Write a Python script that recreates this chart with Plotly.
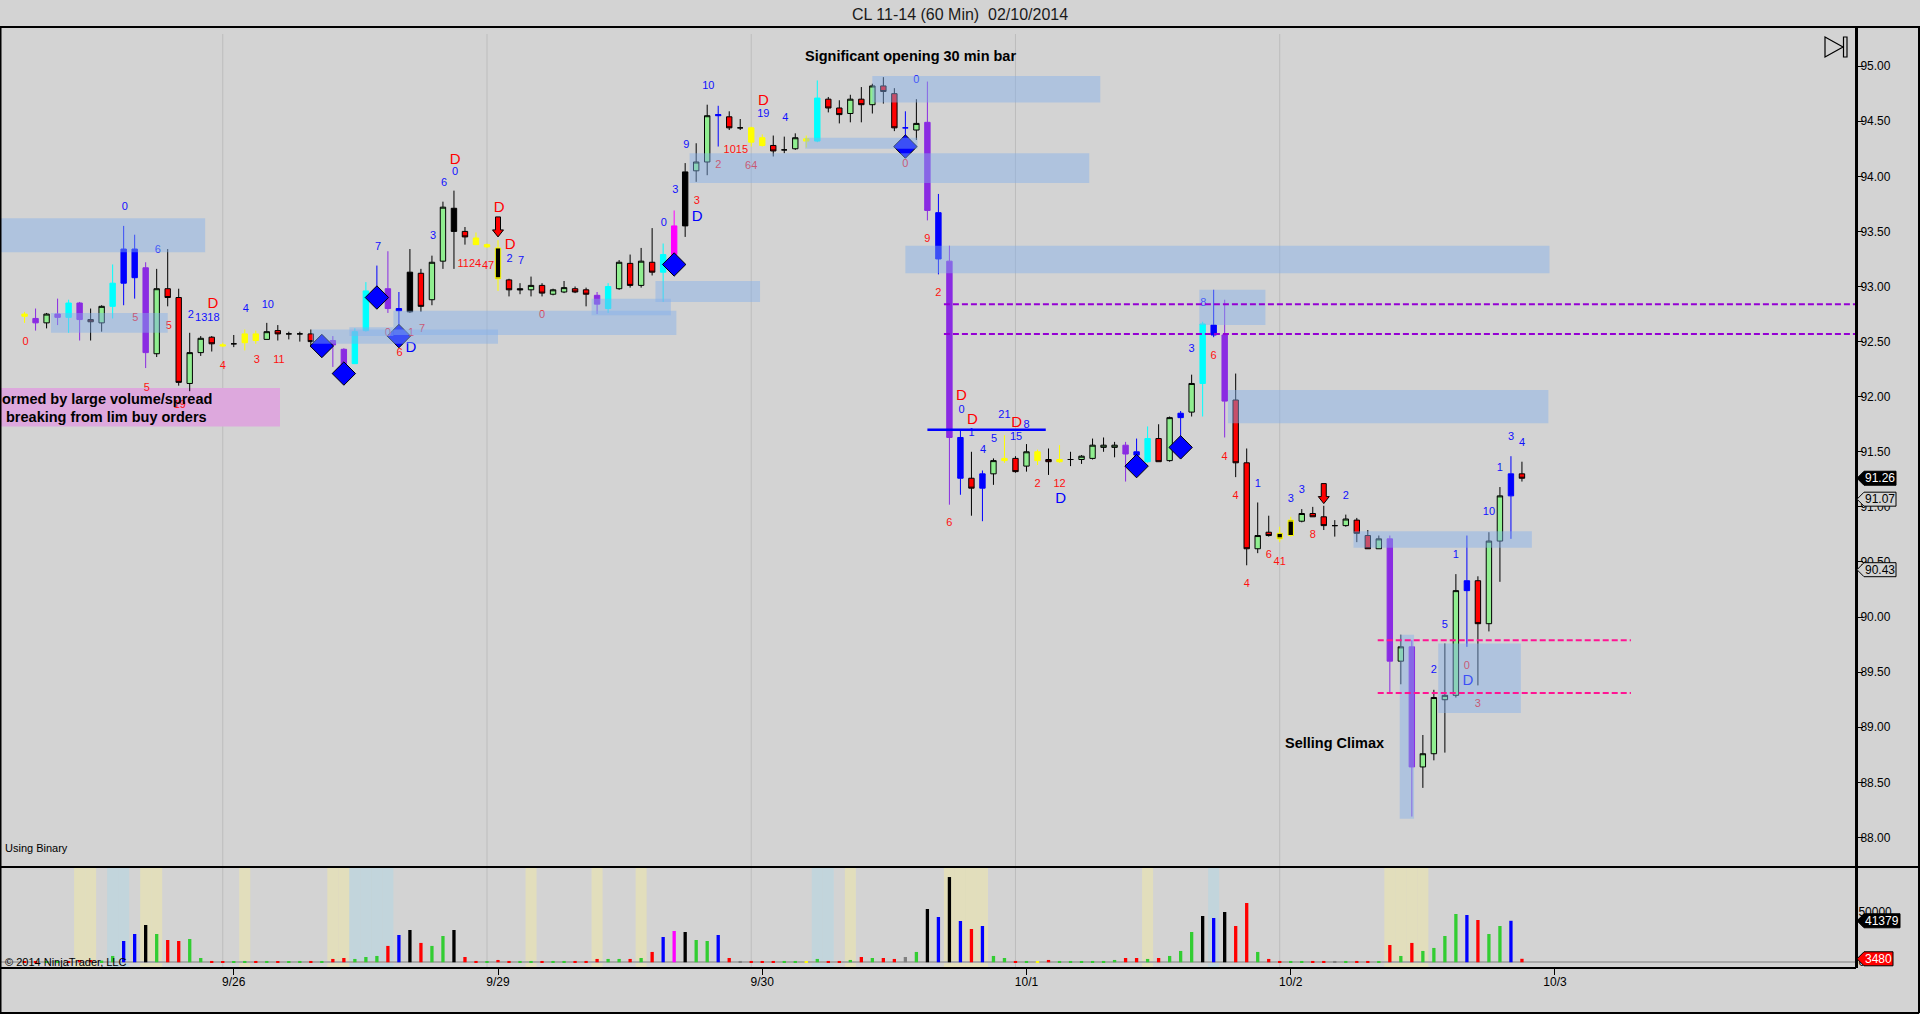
import plotly.graph_objects as go

# hourly bars, index 0 = first bar on the chart (9/25 evening)
opens = [92.75, 92.71, 92.67, 92.75, 92.72, 92.85, 92.70, 92.67, 92.82, 93.03,
         93.34, 93.17, 92.39, 92.98, 92.90, 92.12, 92.40, 92.54, 92.46, 92.48,
         92.49, 92.51, 92.52, 92.60, 92.57, 92.57, 92.57, 92.50, 92.51, 92.43,
         92.30, 92.60, 92.92, 92.98, 92.80, 92.77, 93.12, 92.88, 93.23, 93.71,
         93.50, 93.44, 93.38, 93.35, 93.06, 92.98, 92.97, 93.01, 92.93, 92.95,
         92.98, 92.97, 92.92, 92.80, 92.98, 93.21, 93.01, 93.22, 93.13, 93.29,
         93.55, 94.05, 94.13, 94.55, 94.54, 94.44, 94.44, 94.35, 94.28, 94.24,
         94.25, 94.32, 94.32, 94.70, 94.62, 94.57, 94.70, 94.65, 94.82, 94.75,
         94.44, 94.42, 94.49, 93.67, 93.23, 91.63, 91.26, 91.17, 91.30, 91.42,
         91.44, 91.37, 91.50, 91.43, 91.41, 91.43, 91.43, 91.44, 91.54, 91.54,
         91.56, 91.47, 91.41, 91.62, 91.42, 91.81, 91.86, 92.12, 92.65, 92.56,
         91.97, 91.40, 90.62, 90.77, 90.76, 90.74, 90.87, 90.94, 90.91, 90.83,
         90.83, 90.88, 90.74, 90.62, 90.71, 89.60, 89.73, 88.64, 88.76, 89.25,
         89.29, 90.24, 90.33, 89.94, 90.69, 91.10, 91.30]
highs = [92.77, 92.80, 92.76, 92.89, 92.88, 92.86, 92.80, 92.83, 93.20, 93.55,
         93.47, 93.22, 93.16, 93.34, 92.98, 92.58, 92.55, 92.55, 92.49, 92.56,
         92.61, 92.60, 92.67, 92.65, 92.59, 92.59, 92.61, 92.55, 92.55, 92.44,
         92.62, 93.04, 93.19, 93.32, 92.95, 93.34, 93.16, 93.28, 93.77, 93.87,
         93.54, 93.49, 93.39, 93.42, 93.07, 93.03, 93.09, 93.03, 92.98, 93.05,
         93.00, 92.99, 92.95, 93.03, 93.24, 93.29, 93.35, 93.53, 93.39, 93.69,
         94.12, 94.30, 94.65, 94.64, 94.59, 94.52, 94.45, 94.38, 94.37, 94.36,
         94.39, 94.37, 94.87, 94.72, 94.69, 94.74, 94.81, 94.84, 94.90, 94.80,
         94.59, 94.70, 94.86, 93.84, 93.37, 91.70, 91.50, 91.33, 91.44, 91.65,
         91.46, 91.57, 91.52, 91.53, 91.56, 91.50, 91.47, 91.62, 91.63, 91.59,
         91.59, 91.62, 91.73, 91.75, 91.82, 91.87, 92.20, 92.68, 92.97, 92.88,
         92.21, 91.53, 91.04, 90.92, 90.82, 90.91, 90.98, 91.00, 91.01, 90.88,
         90.93, 90.90, 90.79, 90.74, 90.74, 89.84, 89.79, 88.93, 89.34, 89.76,
         90.39, 90.74, 90.37, 90.77, 91.18, 91.46, 91.41]
lows = [92.67, 92.60, 92.62, 92.65, 92.58, 92.51, 92.51, 92.59, 92.71, 92.83,
        92.89, 92.26, 92.36, 92.82, 92.10, 92.05, 92.37, 92.41, 92.45, 92.45,
        92.42, 92.48, 92.52, 92.51, 92.52, 92.50, 92.45, 92.44, 92.27, 92.25,
        92.30, 92.59, 92.90, 92.76, 92.57, 92.76, 92.77, 92.83, 93.16, 93.16,
        93.38, 93.38, 93.35, 92.96, 92.91, 92.93, 92.91, 92.91, 92.92, 92.94,
        92.94, 92.82, 92.75, 92.76, 92.97, 92.99, 92.99, 93.10, 92.86, 93.27,
        93.45, 93.95, 94.01, 94.27, 94.42, 94.42, 94.27, 94.27, 94.18, 94.21,
        94.24, 94.26, 94.31, 94.58, 94.48, 94.49, 94.49, 94.57, 94.66, 94.41,
        94.27, 94.33, 93.60, 93.11, 91.02, 91.11, 90.92, 90.87, 91.20, 91.40,
        91.31, 91.32, 91.38, 91.29, 91.40, 91.37, 91.39, 91.43, 91.50, 91.45,
        91.23, 91.30, 91.40, 91.41, 91.41, 91.55, 91.82, 91.82, 92.54, 91.63,
        91.27, 90.47, 90.58, 90.73, 90.68, 90.73, 90.86, 90.91, 90.79, 90.73,
        90.82, 90.68, 90.62, 90.62, 89.31, 89.39, 88.19, 88.45, 88.70, 88.77,
        89.27, 89.73, 89.38, 89.87, 90.32, 90.71, 91.23]
closes = [92.73, 92.67, 92.75, 92.72, 92.85, 92.70, 92.68, 92.82, 93.03, 93.34,
          93.08, 92.40, 92.98, 92.90, 92.13, 92.40, 92.53, 92.48, 92.47, 92.48,
          92.57, 92.57, 92.59, 92.57, 92.57, 92.57, 92.50, 92.47, 92.47, 92.29,
          92.59, 92.96, 92.96, 92.80, 92.78, 93.13, 92.82, 93.22, 93.72, 93.50,
          93.45, 93.38, 93.36, 93.07, 92.97, 92.97, 93.01, 92.94, 92.97, 92.99,
          92.95, 92.93, 92.84, 93.00, 93.22, 93.01, 93.23, 93.13, 93.29, 93.55,
          94.04, 94.13, 94.55, 94.56, 94.44, 94.44, 94.31, 94.28, 94.23, 94.24,
          94.35, 94.34, 94.71, 94.62, 94.56, 94.70, 94.65, 94.82, 94.77, 94.44,
          94.44, 94.48, 93.69, 93.25, 91.63, 91.26, 91.17, 91.30, 91.42, 91.44,
          91.32, 91.50, 91.42, 91.41, 91.43, 91.43, 91.46, 91.56, 91.56, 91.56,
          91.48, 91.50, 91.62, 91.41, 91.81, 91.85, 92.12, 92.66, 92.56, 91.96,
          91.40, 90.62, 90.74, 90.74, 90.71, 90.88, 90.94, 90.91, 90.83, 90.83,
          90.89, 90.76, 90.62, 90.71, 89.60, 89.73, 88.64, 88.76, 89.27, 89.29,
          90.24, 90.33, 89.94, 90.69, 91.10, 91.30, 91.26]
# indicator paint of each bar
bar_codes = ("Y P G P C P R G C B B P G R R G G R Y K "
             "Y Y G R K K R K P P C C B P B K R G G K "
             "R Y Y YB R K G R G G R R P C G R G R C M "
             "K G G B R K Y Y R K G Y C R R G R G R R "
             "B G P B P B R B G Y R G Y R Y K G G G G "
             "P B C R G B G C B P R R G R YB YB G R R K "
             "G R R G P G P G G G G B R G G B R").split()

volumes = [1300, 1300, 1300, 1300, 1300, 2300, 2300, 1700, 6300, 21250,
           28200, 37180, 28200, 22250, 21250, 23240, 4300, 1330, 600, 700,
           1330, 1330, 1330, 700, 700, 1330, 1330, 1330, 3320, 4300,
           3320, 5300, 6300, 16300, 27220, 32200, 19300, 16300, 26230, 32200,
           5300, 1330, 600, 2320, 1330, 1330, 1330, 1330, 1330, 1330,
           1330, 1330, 3320, 3320, 3320, 3320, 4300, 10300, 25230, 31200,
           30200, 22250, 21250, 27220, 4300, 1330, 1330, 1330, 1330, 1330,
           1330, 1000, 3320, 1330, 1330, 2320, 5300, 4300, 4300, 3320,
           5300, 10300, 53120, 45150, 84990, 41170, 33200, 36190, 6300, 4300,
           1330, 1330, 1000, 2320, 1330, 1330, 1330, 1330, 1330, 2320,
           4300, 4300, 3320, 4300, 6300, 11300, 30200, 46150, 44150, 50140,
           36190, 59100, 10300, 3320, 1330, 1330, 1330, 1330, 1330, 1330,
           1330, 1330, 1330, 1330, 17260, 6300, 19300, 11300, 14300, 26230,
           48140, 47140, 42160, 28200, 36190, 41379, 3480]
vol_codes = ("R R G G R R R G G B B K G R R G G R R G "
             "G R G R G G R G R R G G G R B K R G G K "
             "R R G R R G G R G G R R R G G R G R B M "
             "K G G B R N R R R G G Y G R R G R G R R "
             "N G K B K B R B G G R G Y R G G G G G G "
             "R R G R G G G K B K R R G R R G G R R N "
             "G R R G R G R G G G G B R G G B R").split()

day_lines = [18, 42, 66, 90, 114]
date_ticks = [19, 43, 67, 91, 115, 139]
date_labels = ["9/26", "9/29", "9/30", "10/1", "10/2", "10/3"]

# supply / demand zones drawn on the chart
zone_start = [-2.2, 2.4, 26.1, 29.5, 33.5, 51.5, 57.3, 60.4, 70.9, 77.0, 80.0, 106.7, 109.3, 120.7, 124.9, 128.4]
zone_end = [16.4, 13.0, 43.0, 33.5, 59.2, 58.7, 66.8, 96.7, 81.1, 97.7, 138.5, 112.7, 138.4, 136.9, 126.2, 135.9]
zone_low = [93.31, 92.58, 92.48, 92.55, 92.56, 92.74, 92.86, 93.94, 94.25, 94.67, 93.12, 92.65, 91.76, 90.63, 88.17, 89.13]
zone_high = [93.62, 92.76, 92.61, 92.63, 92.78, 92.89, 93.05, 94.21, 94.35, 94.91, 93.37, 92.97, 92.06, 90.78, 89.84, 89.76]

shade_yellow = [5, 6, 11, 12, 20, 28, 29, 46, 52, 56, 75, 84, 85, 86, 87, 102, 124, 125, 126, 127]
shade_blue = [8, 9, 30, 31, 32, 33, 72, 73, 108]

diamond_x = [27, 29, 32, 34, 59, 80, 101, 105]
diamond_y = [92.46, 92.21, 92.90, 92.55, 93.20, 94.27, 91.37, 91.54]

red_num_x = [0.1, 10.05, 11.1, 13.1, 14.1, 18.0, 21.1, 23.1, 33.0, 35.1, 36.1, 34.05, 40.4, 42.1,
             47.0, 61.05, 63.0, 64.6, 66.0, 80.0, 82.0, 83.0, 84.0, 92.0, 94.0, 108.0, 109.0,
             110.0, 111.0, 113.0, 114.0, 117.0, 131.0, 132.0]
red_num_y = [92.49, 92.71, 92.08, 92.64, 91.92, 92.28, 92.33, 92.33, 92.58, 92.58, 92.61, 92.39,
             93.20, 93.18, 92.74, 93.77, 94.10, 94.24, 94.09, 94.11, 93.43, 92.94, 90.85, 91.21,
             91.21, 92.37, 91.45, 91.10, 90.30, 90.56, 90.50, 90.74, 89.55, 89.21]
red_num_text = ["0", "5", "5", "5", "19", "4", "3", "11", "0", "1", "7", "6", "1124", "47",
                "0", "3", "2", "1015", "64", "0", "9", "2", "6", "2", "12", "6", "4",
                "4", "4", "6", "41", "8", "0", "3"]

blue_num_x = [9.1, 12.1, 15.1, 16.6, 20.1, 22.1, 32.1, 37.1, 38.1, 39.1, 44.05, 45.1, 58.05,
              59.1, 60.1, 62.1, 67.1, 69.1, 81.0, 85.1, 86.0, 87.05, 88.05, 89.0, 90.05, 91.0,
              106.0, 107.05, 112.0, 115.0, 116.0, 120.0, 128.0, 129.0, 130.0, 133.0, 134.0,
              135.0, 136.0]
blue_num_y = [93.72, 93.33, 92.74, 92.71, 92.79, 92.83, 93.36, 93.46, 93.94, 94.04, 93.25, 93.23,
              93.57, 93.87, 94.28, 94.82, 94.56, 94.53, 94.87, 91.88, 91.67, 91.51, 91.61, 91.83,
              91.63, 91.74, 92.43, 92.85, 91.21, 91.07, 91.15, 91.10, 89.52, 89.93, 90.56,
              90.95, 91.35, 91.63, 91.58]
blue_num_text = ["0", "6", "2", "1318", "4", "10", "7", "3", "6", "0", "2", "7", "0",
                 "3", "9", "10", "19", "4", "0", "0", "1", "4", "5", "21", "15", "8",
                 "3", "8", "1", "3", "3", "2", "2", "5", "1", "10", "1", "3", "4"]

red_d_x = [17.1, 39.1, 43.1, 44.1, 67.1, 85.1, 86.1, 90.1]
red_d_y = [92.84, 94.15, 93.71, 93.37, 94.68, 92.00, 91.79, 91.76]
blue_d_x = [35.1, 61.1, 94.1, 131.1]
blue_d_y = [92.44, 93.63, 91.07, 89.42]

arrow_x = [43, 118]
arrow_tip = [93.45, 91.03]

purple_levels = [92.84, 92.57]
pink_levels = [89.79, 89.31]
blue_level = 91.70

last_price = 91.26
ref_prices = [91.07, 90.43]
last_volume = 41379
bar_volume = 3480

# ---------------------------------------------------------------
W, H = 1920, 1014
ML, MR, MT, MB = 1, 64, 27, 46
PW, PH = W - ML - MR, H - MT - MB
FONT = "Liberation Sans"
BG = "#D3D3D3"
X_RANGE = [-2.14, 166.34]


def fx(px):
    return (px - ML) / PW


def fy(py):
    return (H - MB - py) / PH


split = fy(867)

candle_style = {
    "G": ("#90EE90", "#000000"),
    "R": ("#FF0000", "#000000"),
    "P": ("#8A2BE2", "#8A2BE2"),
    "B": ("#0000FF", "#0000FF"),
    "C": ("#00FFFF", "#00FFFF"),
    "K": ("#000000", "#000000"),
    "M": ("#FF00FF", "#FF00FF"),
    "Y": ("#FFFF00", "#FFFF00"),
    "YB": ("#000000", "#FFFF00"),
}
vol_style = {"G": "#32CD32", "R": "#FF0000", "B": "#0000FF", "K": "#000000",
             "M": "#FF00FF", "Y": "#FFFF00", "N": "#808080"}

fig = go.Figure()

for code, (fill, edge) in candle_style.items():
    ids = [i for i, c in enumerate(bar_codes) if c == code]
    side = dict(fillcolor=fill, line=dict(color=edge, width=1))
    fig.add_trace(go.Candlestick(
        x=ids,
        open=[opens[i] for i in ids], high=[highs[i] for i in ids],
        low=[lows[i] for i in ids], close=[closes[i] for i in ids],
        increasing=side, decreasing=side, whiskerwidth=0,
        showlegend=False, hoverinfo="skip"))

fig.add_trace(go.Bar(
    x=list(range(len(volumes))), y=volumes, width=0.3,
    marker=dict(color=[vol_style[c] for c in vol_codes], line=dict(width=0)),
    xaxis="x2", yaxis="y2", showlegend=False, hoverinfo="skip"))

fig.add_trace(go.Scatter(
    x=diamond_x, y=diamond_y, mode="markers",
    marker=dict(symbol="diamond", size=18, color="#0000FF", line=dict(color="black", width=1)),
    showlegend=False, hoverinfo="skip"))


def text_trace(xs, ys, txt, color, size):
    return go.Scatter(x=xs, y=ys, text=txt, mode="text",
                      textfont=dict(family=FONT, size=size, color=color),
                      showlegend=False, hoverinfo="skip")


fig.add_trace(text_trace(red_num_x, red_num_y, red_num_text, "#FF1010", 11))
fig.add_trace(text_trace(blue_num_x, blue_num_y, blue_num_text, "#1010FF", 11))
fig.add_trace(text_trace(red_d_x, red_d_y, ["D"] * len(red_d_x), "#FF0000", 15))
fig.add_trace(text_trace(blue_d_x, blue_d_y, ["D"] * len(blue_d_x), "#0000FF", 15))

shapes = []
# volume panel shading
for ids, col in ((shade_yellow, "rgba(238,232,170,0.55)"), (shade_blue, "rgba(173,216,230,0.45)")):
    for i in ids:
        shapes.append(dict(type="rect", xref="x2", yref="paper", x0=i - 0.5, x1=i + 0.5,
                           y0=0, y1=split, fillcolor=col, line=dict(width=0), layer="below"))
# day separators
for d in day_lines:
    shapes.append(dict(type="line", xref="x", yref="paper", x0=d, x1=d, y0=0, y1=fy(34),
                       line=dict(color="#BDBDBD", width=1), layer="below"))
# note box (sits under the bars and labels)
shapes.append(dict(type="rect", xref="x", yref="y", x0=-2.2, x1=23.2, y0=91.73, y1=92.08,
                   fillcolor="#DDA8DD", line=dict(width=0), layer="below"))
# zones
for x0, x1, y0, y1 in zip(zone_start, zone_end, zone_low, zone_high):
    shapes.append(dict(type="rect", xref="x", yref="y", x0=x0, x1=x1, y0=y0, y1=y1,
                       fillcolor="rgba(130,175,235,0.45)", line=dict(width=0), layer="above"))
# horizontal levels
for lv in purple_levels:
    shapes.append(dict(type="line", xref="x", yref="y", x0=83.5, x1=X_RANGE[1], y0=lv, y1=lv,
                       line=dict(color="#9400D3", width=2, dash="6px,3px"), layer="above"))
for lv in pink_levels:
    shapes.append(dict(type="line", xref="x", yref="y", x0=122.9, x1=145.9, y0=lv, y1=lv,
                       line=dict(color="#FF1493", width=2, dash="6px,3px"), layer="above"))
shapes.append(dict(type="line", xref="x", yref="y", x0=82.0, x1=92.75, y0=blue_level, y1=blue_level,
                   line=dict(color="#0000FF", width=2.5), layer="above"))
# down arrows
for ax_, tip in zip(arrow_x, arrow_tip):
    shapes.append(dict(type="path", xref="x", yref="y", xsizemode="pixel", ysizemode="pixel",
                       xanchor=ax_, yanchor=tip,
                       path="M-2.5,20 L2.5,20 L2.5,7 L5.5,7 L0,0 L-5.5,7 L-2.5,7 Z",
                       fillcolor="#FF0000", line=dict(color="black", width=1), layer="above"))
# frame
frame = [(0, 27, W, 27), (0, 867, W, 867), (0, 968, 1856, 968), (1856, 27, 1856, 968),
         (1919, 27, 1919, 1013), (0, 1013, 1919, 1013), (0.5, 27, 0.5, 1013)]
for x0, y0, x1, y1 in frame:
    shapes.append(dict(type="line", xref="paper", yref="paper", x0=fx(x0), x1=fx(x1),
                       y0=fy(y0), y1=fy(y1), line=dict(color="black", width=2)))
# go-to-end icon
shapes.append(dict(type="path", xref="paper", yref="paper", xsizemode="pixel", ysizemode="pixel",
                   xanchor=1, yanchor=1, path="M-31,-10 L-13,-20 L-31,-30 Z",
                   fillcolor="rgba(0,0,0,0)", line=dict(color="black", width=1.2)))
shapes.append(dict(type="rect", xref="paper", yref="paper", xsizemode="pixel", ysizemode="pixel",
                   xanchor=1, yanchor=1, x0=-12.5, x1=-9, y0=-10, y1=-30,
                   line=dict(color="black", width=1.2)))


def axis_tag(yref, val, fill, edge, width):
    return dict(type="path", xref="paper", yref=yref, xsizemode="pixel", ysizemode="pixel",
                xanchor=1, yanchor=val,
                path=f"M1,0 L8,7 L{width},7 L{width},-7 L8,-7 Z",
                fillcolor=fill, line=dict(color=edge, width=1))


shapes.append(axis_tag("y", last_price, "#000000", "#000000", 40))
for p in ref_prices:
    shapes.append(axis_tag("y", p, BG, "#000000", 40))
shapes.append(axis_tag("y2", last_volume, "#000000", "#000000", 44))
shapes.append(axis_tag("y2", bar_volume, "#FF0000", "#000000", 37))

bold = dict(family=FONT, size=14.5, color="black")
annotations = [
    dict(text="CL 11-14 (60 Min)&nbsp; 02/10/2014", xref="paper", yref="paper", x=fx(960), y=fy(14),
         yanchor="middle", showarrow=False, font=dict(family=FONT, size=16, color="#1A1A1A")),
    dict(text="<b>Significant opening 30 min bar</b>", xref="x", yref="y", x=80.5, y=95.09,
         showarrow=False, font=bold),
    dict(text="<b>Selling Climax</b>", xref="x", yref="y", x=119.0, y=88.855,
         showarrow=False, font=bold),
    dict(text="<b>ormed by large volume/spread</b>", xref="paper", yref="y", x=fx(0), y=91.98,
         xanchor="left", showarrow=False, font=bold),
    dict(text="<b>breaking from lim buy orders</b>", xref="paper", yref="y", x=fx(4), y=91.82,
         xanchor="left", showarrow=False, font=bold),
    dict(text="Using Binary", xref="paper", yref="paper", x=fx(3), y=fy(848), xanchor="left",
         yanchor="middle", showarrow=False, font=dict(family=FONT, size=11, color="black")),
    dict(text="© 2014 NinjaTrader, LLC", xref="paper", yref="y2", x=fx(3), y=0, xanchor="left",
         yanchor="middle", showarrow=False, font=dict(family=FONT, size=11, color="black")),
]
for yref, val, txt, col in (("y", last_price, f"{last_price:.2f}", "white"),
                            ("y", ref_prices[0], f"{ref_prices[0]:.2f}", "black"),
                            ("y", ref_prices[1], f"{ref_prices[1]:.2f}", "black"),
                            ("y2", last_volume, str(last_volume), "white"),
                            ("y2", bar_volume, str(bar_volume), "white")):
    annotations.append(dict(text=txt, xref="paper", yref=yref, x=1, y=val, xanchor="left",
                            yanchor="middle", xshift=7, showarrow=False,
                            font=dict(family=FONT, size=12, color=col)))

fig.update_layout(
    width=W, height=H,
    margin=dict(l=ML, r=MR, t=MT, b=MB),
    paper_bgcolor=BG, plot_bgcolor=BG,
    font=dict(family=FONT, size=12, color="black"),
    showlegend=False,
    shapes=shapes, annotations=annotations,
    xaxis=dict(domain=[0, 1], anchor="y", range=X_RANGE, showticklabels=False,
               showgrid=False, zeroline=False, ticks="", rangeslider=dict(visible=False)),
    yaxis=dict(domain=[split, 1], anchor="x", side="right", range=[87.732, 95.355],
               tick0=88, dtick=0.5, tickformat=".2f", ticks="outside", ticklen=5,
               tickcolor="black", showgrid=False, zeroline=False, ticklabelstandoff=-5,
               showline=True, linecolor="black", linewidth=2,
               tickfont=dict(family=FONT, size=12, color="black")),
    xaxis2=dict(domain=[0, 1], anchor="y2", matches="x", range=X_RANGE,
                tickmode="array", tickvals=date_ticks, ticktext=date_labels,
                ticks="outside", ticklen=6, tickcolor="black", showgrid=False, zeroline=False,
                ticklabelstandoff=-3,
                tickfont=dict(family=FONT, size=12, color="black")),
    yaxis2=dict(domain=[0, split], anchor="x2", side="right", range=[-5700, 95000],
                tickmode="array", tickvals=[0, 50000], ticktext=["0", "50000"], ticks="",
                showgrid=False, zeroline=True, zerolinecolor="#A8A8A8", zerolinewidth=2,
                showline=True, linecolor="black", linewidth=2, ticklabelstandoff=-2,
                tickfont=dict(family=FONT, size=12, color="black")),
)

# the page body has a default 8px margin; drop it so the chart sits at the window corner
fig.write_html("out.html", config={"displayModeBar": False},
               post_script="document.body.style.margin='0';")
